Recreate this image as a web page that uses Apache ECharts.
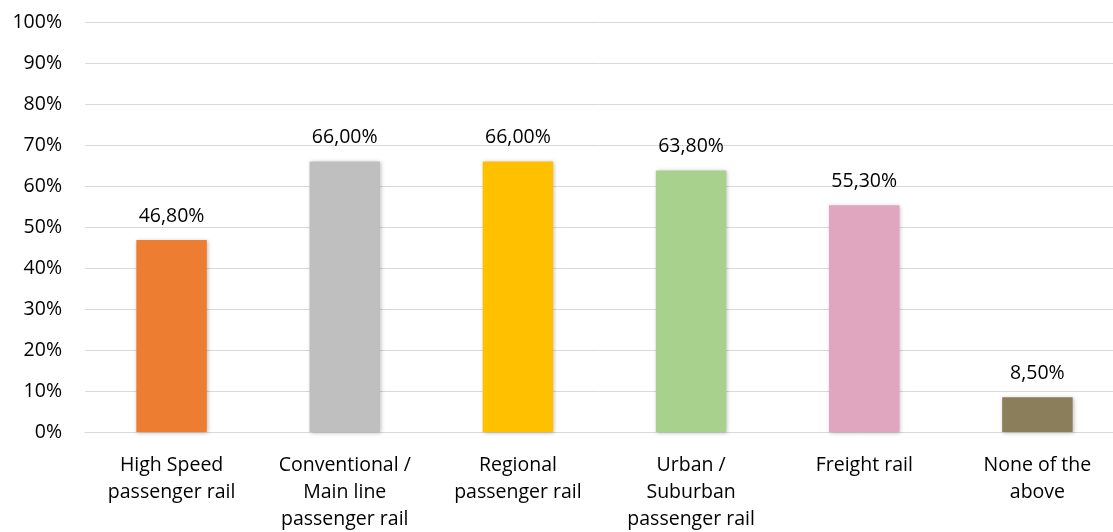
<!DOCTYPE html>
<html>
<head>
<meta charset="utf-8">
<script src="https://cdn.jsdelivr.net/npm/echarts@6/dist/echarts.min.js"></script>
<style>html,body{margin:0;padding:0;background:#fff;overflow:hidden}#c{width:1113px;height:532px}</style>
</head>
<body>
<div id="c"></div>
<script>
var categories = ["High Speed\npassenger rail", "Conventional /\nMain line\npassenger rail", "Regional\npassenger rail", "Urban /\nSuburban\npassenger rail", "Freight rail", "None of the\nabove"];
var values = [46.8, 66.0, 66.0, 63.8, 55.3, 8.5];
var colors = ["#ED7D31", "#BFBFBF", "#FFC000", "#A9D18E", "#E0A6BF", "#8B7E5B"];
var yTicks = [0, 10, 20, 30, 40, 50, 60, 70, 80, 90, 100];

var font = "'Open Sans', 'Liberation Sans', sans-serif";
var chart = echarts.init(document.getElementById('c'));
chart.setOption({
  animation: false,
  grid: {left: 85, width: 1039, top: 22, height: 410, outerBoundsMode: 'none', containLabel: false},
  xAxis: {
    type: 'category',
    data: categories,
    axisLine: {lineStyle: {color: '#D9D9D9', width: 1}},
    axisTick: {show: false},
    axisLabel: {color: '#000', fontSize: 19.5, fontFamily: font, lineHeight: 27, margin: 20, interval: 0}
  },
  yAxis: {
    type: 'value',
    min: yTicks[0], max: yTicks[yTicks.length - 1], interval: 10,
    axisLine: {show: false},
    axisTick: {show: false},
    splitLine: {lineStyle: {color: '#D9D9D9', width: 1}},
    axisLabel: {color: '#000', fontSize: 19.5, fontFamily: font, margin: 23, formatter: function (v) { return v + '%'; }}
  },
  series: [{
    type: 'bar',
    barWidth: '40.7%',
    data: values.map(function (v, i) {
      return {value: v, itemStyle: {color: colors[i]}};
    }),
    itemStyle: {shadowBlur: 4, shadowColor: 'rgba(0,0,0,0.25)', shadowOffsetX: 1, shadowOffsetY: 1},
    label: {
      show: true, position: 'top', distance: 14, color: '#000', fontSize: 19.5, fontFamily: font,
      formatter: function (p) { return p.value.toFixed(2).replace('.', ',') + '%'; }
    }
  }]
});
</script>
</body>
</html>
